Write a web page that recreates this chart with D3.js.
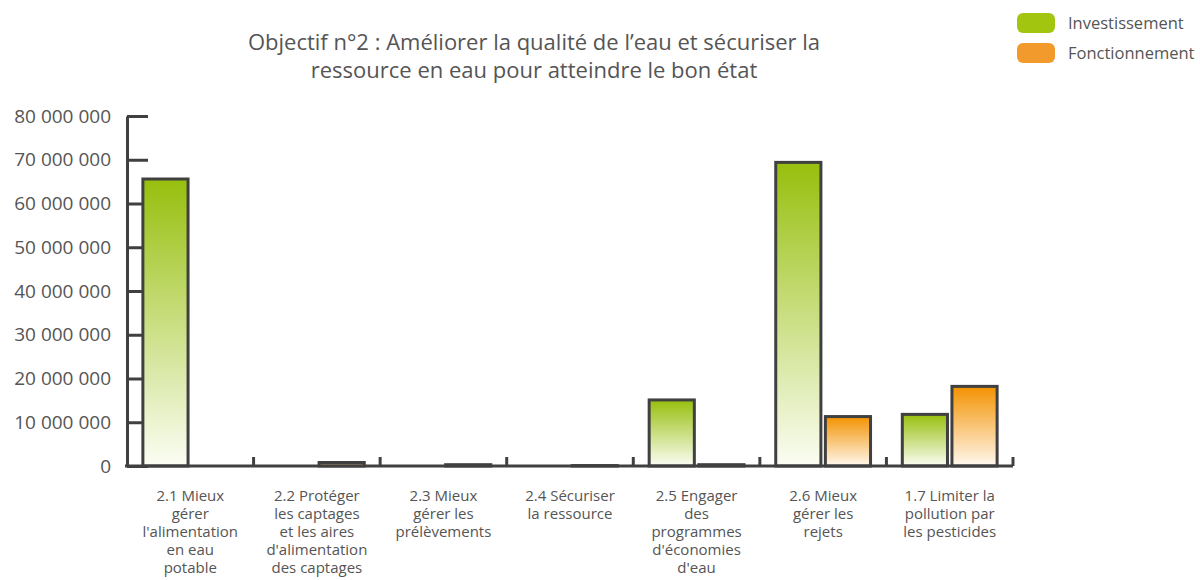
<!DOCTYPE html>
<html lang="fr">
<head>
<meta charset="utf-8">
<script src="https://cdn.jsdelivr.net/npm/d3@7"></script>
<style>
  html, body { margin: 0; padding: 0; background: #fff; }
  svg { display: block; font-family: "Open Sans", "DejaVu Sans", sans-serif; }
</style>
</head>
<body>
<svg id="chart" width="1200" height="580"></svg>
<script>
// Budget par sous-objectif (en euros)
const categories = [
  "2.1 Mieux\ngérer\nl'alimentation\nen eau\npotable",
  "2.2 Protéger\nles captages\net les aires\nd'alimentation\ndes captages",
  "2.3 Mieux\ngérer les\nprélèvements",
  "2.4 Sécuriser\nla ressource",
  "2.5 Engager\ndes\nprogrammes\nd'économies\nd'eau",
  "2.6 Mieux\ngérer les\nrejets",
  "1.7 Limiter la\npollution par\nles pesticides"
];
const seriesNames = ["Investissement", "Fonctionnement"];
const investissement = [65600000, 0, 0, 0, 15100000, 69400000, 11800000];
const fonctionnement = [0, 800000, 300000, 100000, 300000, 11300000, 18200000];
const yTicks = [0, 10000000, 20000000, 30000000, 40000000, 50000000, 60000000, 70000000, 80000000];
const titleLines = [
  "Objectif n°2 : Améliorer la qualité de l’eau et sécuriser la",
  "ressource en eau pour atteindre le bon état"
];

const svg = d3.select("#chart");
const ink = "#404040";
const textColor = "#555";
const colors = { Investissement: ["#97bf0d", "#fbfdf4"], Fonctionnement: ["#f39200", "#fff8ef"] };
const legendColors = { Investissement: "#a2c510", Fonctionnement: "#f39a2c" };

const plot = { left: 127, right: 1013, top: 116, bottom: 466 };

const x0 = d3.scaleBand().domain(categories).range([plot.left, plot.right]).padding(0);
const x1 = d3.scaleBand().domain(seriesNames).range([0, x0.bandwidth()])
  .paddingInner(0.09).paddingOuter(0.32);
const y = d3.scaleLinear().domain([0, 80000000]).range([plot.bottom, plot.top]);

// Vertical gradients, full colour at the top fading to white
const defs = svg.append("defs");
seriesNames.forEach((s, i) => {
  const g = defs.append("linearGradient").attr("id", "grad" + i)
    .attr("x1", 0).attr("y1", 0).attr("x2", 0).attr("y2", 1);
  g.append("stop").attr("offset", "0%").attr("stop-color", colors[s][0]);
  g.append("stop").attr("offset", "100%").attr("stop-color", colors[s][1]);
});

// Title
svg.append("text")
  .attr("x", 534).attr("y", 50)
  .attr("text-anchor", "middle")
  .attr("fill", textColor)
  .style("font-size", "22px")
  .selectAll("tspan").data(titleLines).join("tspan")
  .attr("x", 534).attr("dy", (d, i) => i === 0 ? 0 : 28)
  .text(d => d);

// Y axis: ticks pointing into the plot
const yAxis = svg.append("g").attr("transform", `translate(${plot.left},0)`)
  .call(d3.axisLeft(y).tickValues(yTicks).tickSizeInner(-21).tickSizeOuter(0).tickPadding(16)
    .tickFormat(d => d3.format(",")(d).replace(/,/g, " ")));
yAxis.select(".domain").attr("stroke", ink).attr("stroke-width", 3);
yAxis.selectAll(".tick line").attr("stroke", ink).attr("stroke-width", 3);
yAxis.selectAll(".tick text").attr("fill", textColor).style("font-size", "19px")
  .style("font-family", "\"Open Sans\", sans-serif");

// Bars
const rows = categories.map((c, i) => ({ cat: c, values: [investissement[i], fonctionnement[i]] }));
const groups = svg.append("g").selectAll("g").data(rows).join("g")
  .attr("transform", d => `translate(${x0(d.cat)},0)`);
groups.selectAll("rect")
  .data(d => d.values.map((v, i) => ({ series: seriesNames[i], idx: i, value: v })))
  .join("rect")
  .attr("x", d => x1(d.series))
  .attr("width", x1.bandwidth())
  .attr("y", d => y(d.value))
  .attr("height", d => y(0) - y(d.value))
  .attr("fill", d => `url(#grad${d.idx})`)
  .attr("stroke", ink)
  .attr("stroke-width", 3);

// X axis: baseline, boundary ticks and wrapped category labels
const xAxis = svg.append("g").attr("transform", `translate(0,${plot.bottom})`)
  .call(d3.axisBottom(x0).tickSize(0).tickPadding(0).tickFormat(""));
xAxis.select(".domain").attr("d", `M${plot.left - 2},0H${plot.right}`).attr("stroke", ink).attr("stroke-width", 3);

const boundaries = categories.map(c => x0(c)).concat([plot.right]).slice(1);
xAxis.selectAll(".bound").data(boundaries).join("line")
  .attr("class", "bound")
  .attr("x1", d => d).attr("x2", d => d)
  .attr("y1", 0).attr("y2", -9)
  .attr("stroke", ink).attr("stroke-width", 3);

xAxis.selectAll(".tick").each(function(d) {
  const t = d3.select(this).select("text")
    .attr("y", 0).attr("dy", null)
    .attr("fill", textColor)
    .style("font-size", "15px")
    .style("font-family", "\"Open Sans\", sans-serif");
  t.text(null);
  d.split("\n").forEach((line, i) => {
    t.append("tspan").attr("x", 0).attr("y", 35 + i * 18).text(line);
  });
});

// Legend
const legend = svg.append("g").selectAll("g").data(seriesNames).join("g")
  .attr("transform", (d, i) => `translate(1017,${13 + i * 30})`);
legend.append("rect")
  .attr("width", 38).attr("height", 20).attr("rx", 6)
  .attr("fill", d => legendColors[d]);
legend.append("text")
  .attr("x", 51).attr("y", 16)
  .attr("fill", textColor)
  .style("font-size", "16.5px")
  .text(d => d);
</script>
</body>
</html>
